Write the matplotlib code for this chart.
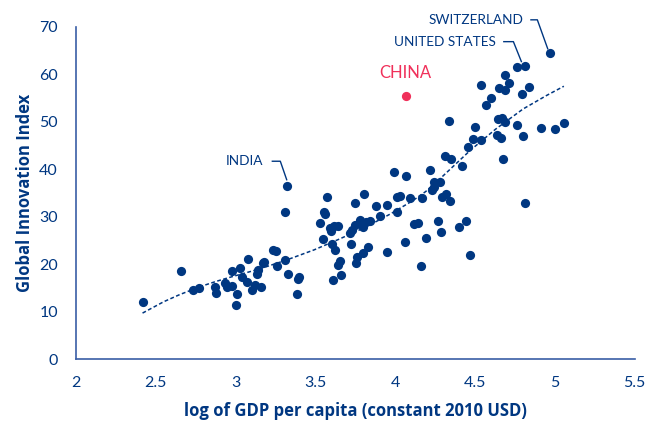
import numpy as np
import matplotlib
matplotlib.use("Agg")
import matplotlib.pyplot as plt

plt.rcParams['font.family'] = ['Lato', 'DejaVu Sans']

# log GDP per capita (x) and Global Innovation Index (y)
gdp_log = [2.42, 2.66, 2.735, 2.77, 2.87, 2.877, 2.935, 2.947, 2.977, 2.975,
           3.027, 3.04, 3.08, 3.07, 3.01, 3.0, 3.105, 3.12, 3.16, 3.135,
           3.14, 3.17, 3.18, 3.235, 3.25,
           3.325, 3.31, 3.257, 3.31, 3.33, 3.40, 3.39, 3.385, 3.57, 3.555,
           3.56, 3.53, 3.59, 3.615, 3.64, 3.60, 3.55, 3.605, 3.62, 3.655,
           3.64, 3.66, 3.607, 3.72, 3.75, 3.805, 3.716, 3.73, 3.747, 3.78,
           3.80, 3.816, 3.84, 3.785, 3.76, 3.755, 3.80, 3.83, 3.88, 3.905,
           3.95, 3.99, 4.065, 4.01, 4.01, 4.03, 3.95, 4.06, 4.095, 4.167,
           4.12, 4.14, 4.195, 4.16, 4.22, 4.24, 4.28, 4.24, 4.23, 4.29,
           4.32, 4.34, 4.27, 4.285, 4.31, 4.35, 4.44, 4.40, 4.47,
           4.968, 4.81, 4.76, 4.69, 4.715, 4.54, 4.65, 4.686, 4.84, 4.795,
           4.60, 4.567, 4.335, 4.645, 4.67, 4.686, 4.765, 4.916, 5.0, 5.056,
           4.497, 4.64, 4.66, 4.80, 4.49, 4.535, 4.457, 4.415, 4.676, 4.815]
gii = [12.1, 18.5, 14.5, 15.0, 15.3, 14.0, 16.1, 15.3, 15.4, 18.6,
       19.3, 17.4, 21.0, 16.3, 13.8, 11.5, 14.6, 15.6, 15.1, 18.0,
       18.8, 20.2, 20.5, 23.0, 22.8,
       36.5, 31.0, 19.6, 20.8, 18.0, 17.4, 16.8, 13.8, 34.2, 31.0,
       30.5, 28.7, 27.7, 28.1, 28.0, 27.0, 25.3, 24.3, 22.9, 20.7,
       19.9, 17.7, 16.6, 24.3, 32.9, 34.9, 26.5, 27.3, 28.3, 29.3,
       27.8, 29.0, 29.2, 28.5, 21.6, 20.2, 22.4, 23.7, 32.2, 30.1,
       32.5, 39.5, 38.6, 30.9, 34.2, 34.3, 22.6, 24.7, 34.0, 34.0,
       28.5, 28.6, 25.6, 19.7, 39.8, 37.4, 37.4, 36.3, 35.6, 34.2,
       34.7, 33.4, 29.2, 26.8, 42.8, 42.1, 29.1, 27.8, 22.0,
       64.5, 61.8, 61.5, 59.8, 58.2, 57.7, 57.2, 56.7, 57.3, 55.9,
       55.0, 53.5, 50.2, 50.5, 50.8, 50.0, 49.4, 48.8, 48.4, 49.7,
       49.0, 47.2, 46.7, 47.0, 46.3, 46.1, 44.6, 40.6, 42.1, 32.9]
china_x, china_y = [4.07], [55.4]

# trend line
trend_x = [2.417, 2.55, 2.65, 2.78, 2.88, 2.96, 3.15, 3.32, 3.49, 3.65,
           3.82, 3.97, 4.11, 4.19, 4.28, 4.47, 4.63, 4.80, 4.95, 5.056]
trend_y = [9.7, 12.1, 13.6, 15.3, 16.4, 17.2, 19.0, 20.9, 23.0, 25.3,
           27.9, 30.6, 33.4, 35.3, 38.0, 44.0, 48.5, 52.7, 55.6, 57.5]

x_ticks = [2, 2.5, 3, 3.5, 4, 4.5, 5, 5.5]
x_tick_labels = ["2", "2.5", "3", "3.5", "4", "4.5", "5", "5.5"]
y_ticks = [0, 10, 20, 30, 40, 50, 60, 70]

NAVY = "#003781"
PINK = "#f0305a"
SPINE = "#3a5ea6"

fig = plt.figure(figsize=(6.51, 4.21), dpi=100)
ax = fig.add_axes([0.1167, 0.147, 0.8583, 0.789])

ax.scatter(gdp_log, gii, s=44, color=NAVY, linewidths=0, zorder=3)
ax.scatter(china_x, china_y, s=44, color=PINK, linewidths=0, zorder=3)

ax.plot(trend_x, trend_y, color=NAVY, lw=1.1, ls=(0, (2.5, 1.6)), zorder=2)

ax.set_xlim(2, 5.5)
ax.set_ylim(0, 70)
ax.set_xticks(x_ticks)
ax.set_xticklabels(x_tick_labels)
ax.set_yticks(y_ticks)
ax.tick_params(length=0, labelsize=11.5, labelcolor=NAVY)
ax.tick_params(axis='x', pad=12)
ax.tick_params(axis='y', pad=13)
for s in ['top', 'right']:
    ax.spines[s].set_visible(False)
for s in ['left', 'bottom']:
    ax.spines[s].set_color(SPINE)
    ax.spines[s].set_linewidth(1.2)

lab_font = dict(fontsize=12, fontweight='bold', color=NAVY,
                family=['Open Sans', 'DejaVu Sans'])
ax.set_xlabel("log of GDP per capita (constant 2010 USD)", labelpad=9, **lab_font)
ax.set_ylabel("Global Innovation Index", labelpad=4, **lab_font)

# annotations
ax.text(3.17, 41.7, "INDIA", ha='right', va='center', fontsize=9.8, color=NAVY)
ax.plot([3.23, 3.28, 3.32], [41.7, 41.7, 37.8], color=NAVY, lw=1.0)

ax.text(4.63, 66.9, "UNITED STATES", ha='right', va='center', fontsize=9.8, color=NAVY)
ax.plot([4.68, 4.74, 4.79], [66.9, 66.9, 62.7], color=NAVY, lw=1.0)

ax.text(4.8, 71.5, "SWITZERLAND", ha='right', va='center', fontsize=9.8,
        color=NAVY, clip_on=False)
ax.plot([4.85, 4.89, 4.955], [71.5, 71.5, 65.4], color=NAVY, lw=1.0, clip_on=False)

ax.text(4.06, 60.3, "CHINA", ha='center', va='center', fontsize=12, color=PINK)

fig.savefig("out.png", dpi=100)
